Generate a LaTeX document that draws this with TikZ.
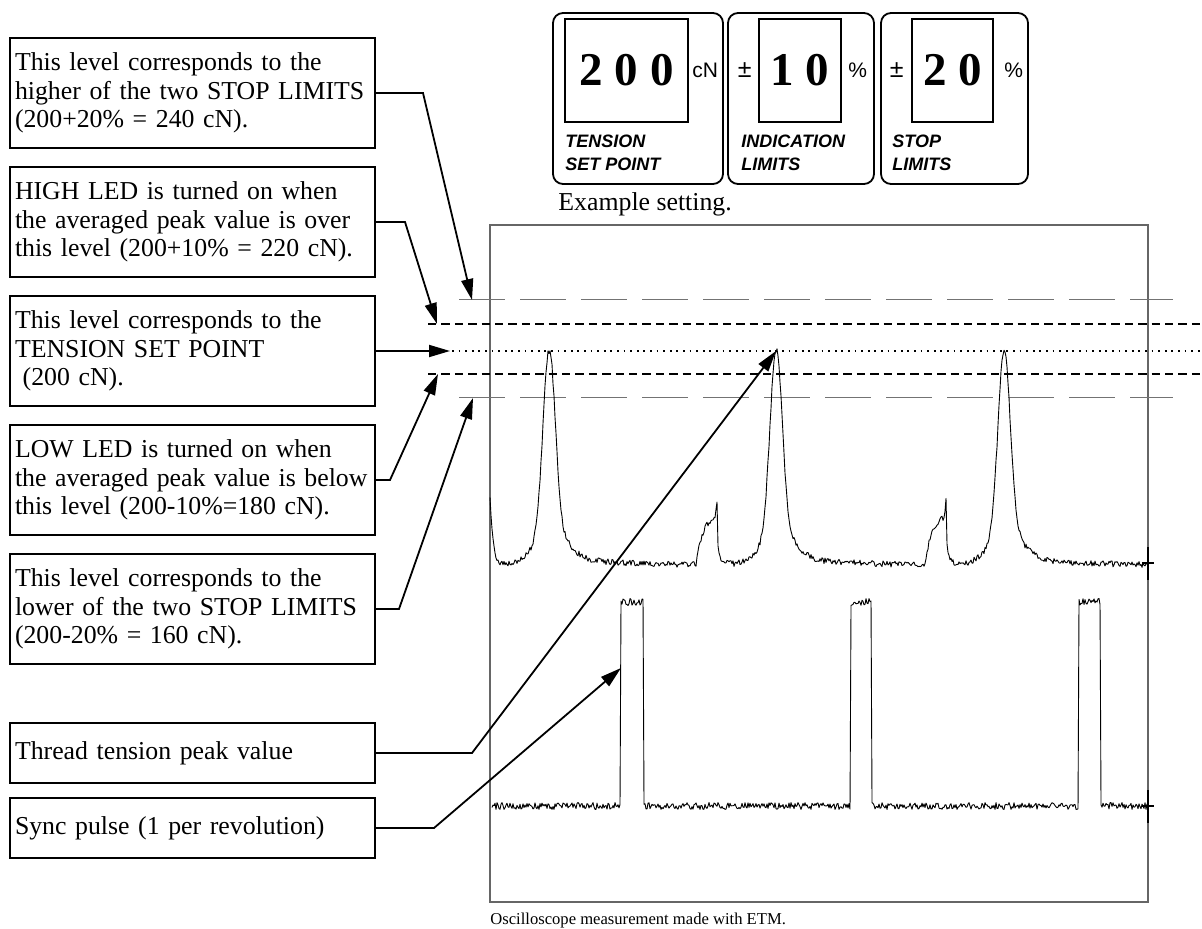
\documentclass[tikz,border=0pt]{standalone}
\usepackage{fontspec}
\setmainfont{Liberation Serif}
\setsansfont{Liberation Sans}
\usetikzlibrary{arrows.meta, positioning}
\tikzset{
  textbox/.style={draw, line width=0.8pt, outer sep=0pt, align=left, text width=177.5pt, inner xsep=2.5pt, minimum height=55pt, font=\fontsize{12.9}{14.35}\selectfont},
  panel/.style={draw, line width=0.9pt, rounded corners=5pt, minimum height=85.5pt},
  display/.style={draw, line width=0.9pt, minimum height=51.5pt, font=\fontsize{23.5}{24}\selectfont\bfseries},
  unit/.style={inner sep=0pt, font=\fontsize{10.5}{12}\selectfont\sffamily},
  tag/.style={align=left, inner sep=0pt, anchor=north west, font=\fontsize{9}{11.5}\selectfont\sffamily\bfseries\itshape},
  stoplvl/.style={black!55, line width=0.5pt, dash pattern=on 23pt off 7.5pt},
  indlvl/.style={line width=1pt, dash pattern=on 4.2pt off 2.5pt},
  setlvl/.style={line width=0.9pt, dash pattern=on 0.9pt off 2.4pt},
  trace/.style={line width=0.45pt, line join=round},
  scopebox/.style={black!60, line width=0.55pt},
  endmark/.style={line width=0.8pt},
  arrow/.style={-{Triangle[length=10.5pt, width=6pt]}, line width=0.9pt},
  note/.style={inner sep=0pt, anchor=base west}
}

\begin{document}
\begin{tikzpicture}[x=0.5pt, y=-0.5pt, node distance=9.5pt,
  declare function={
    gb(\p,\q,\w)=exp(-1*(min(abs(\p-\q)/\w,3.2))^2);
    dk(\p,\q,\w)=(\p>\q)*exp(-1*min(max(\p-\q,0)/\w,10));
    rs(\p,\q,\w)=1-exp(-1*min(max(\p-\q,0)/\w,10));
    pk(\p,\q)=184*gb(\p,\q,8.5)+30*gb(\p,\q,22)+12*rs(\p,\q,4)*dk(\p,\q,45);
    bp(\p,\q)=(\p<=\q)*50*rs(\p,\q-21,7)+18*gb(\p,\q,1.2)+12*dk(\p,\q,5);
    sq(\p,\q,\w)=(\p>=\q)*(\p<=\w);
  }]
  \useasboundingbox[fill=white] (0,0) rectangle (1202,929);

  % setting panels
  \node[panel, minimum width=85pt] (tspanel) at (638,98.5) {};
  \node[panel, minimum width=73pt] (ilpanel) at (801,98.5) {};
  \node[panel, minimum width=73.5pt] (slpanel) at (954.5,98.5) {};
  \node[display, minimum width=61.5pt] (tsval) at (626.5,70.5) {2 0 0};
  \node[display, minimum width=41pt] (ilval) at (800,70.5) {1 0};
  \node[display, minimum width=40.5pt] (slval) at (952.5,70.5) {2 0};
  \node[unit, right=1.5pt of tsval] (tsunit) {cN};
  \node[unit, left=3pt of ilval, font=\fontsize{12.5}{12}\selectfont\sffamily] (ilpm) {±};
  \node[unit, right=3pt of ilval] (ilunit) {\%};
  \node[unit, left=3.5pt of slval, font=\fontsize{12.5}{12}\selectfont\sffamily] (slpm) {±};
  \node[unit, right=5pt of slval] (slunit) {\%};
  \node[tag] (tstag) at (565,135) {TENSION\\SET POINT};
  \node[tag] (iltag) at (741,135) {INDICATION\\LIMITS};
  \node[tag] (sltag) at (892,135) {STOP\\LIMITS};
  \node[note, font=\fontsize{12.9}{14.35}\selectfont] (example) at (558,211) {Example setting.};

  % oscilloscope screen
  \draw[scopebox] (490,225) rectangle (1148,902);
  \draw[stoplvl] (459,300) -- (1173,300);
  \draw[indlvl] (428,324) -- (1202,324);
  \draw[setlvl] (452,351) -- (1202,351);
  \draw[indlvl] (428,374) -- (1202,374);
  \draw[stoplvl] (459,398) -- (1173,398);

  \pgfmathsetseed{11}
  \draw[trace] plot[domain=490:1148, samples=659]
    (\x, {565-80*dk(\x,489.5,3)-pk(\x,549)-pk(\x,776)-pk(\x,1004)-bp(\x,717)-bp(\x,946)+3*rand});
  \draw[trace] plot[domain=492:1148, samples=657]
    (\x, {806-204*(sq(\x,621,643)+sq(\x,851,871)+sq(\x,1079,1100))+3.5*rand});
  \draw[endmark] (1148,547) -- (1148,580) (1142,563) -- (1154,563);
  \draw[endmark] (1148,790) -- (1148,823) (1142,806) -- (1154,806);

  \coordinate (tstophi) at (472,300);
  \coordinate (tindhi) at (437,324);
  \coordinate (tsetpt) at (450,351);
  \coordinate (tindlo) at (438,374);
  \coordinate (tstoplo) at (473,398);
  \coordinate (tpeak) at (776,351);
  \coordinate (tsync) at (621,668);

  % explanations
  \node[textbox, anchor=north west] (stophi) at (10,38) {This level corresponds to the\\higher of the two STOP LIMITS\\(200+20\% = 240 cN).};
  \node[textbox, below=of stophi] (indhi) {HIGH LED is turned on when\\the averaged peak value is over\\this level (200+10\% = 220 cN).};
  \node[textbox, below=of indhi] (setpt) {This level corresponds to the\\TENSION SET POINT\\\hspace*{0.3em}(200 cN).};
  \node[textbox, below=of setpt] (indlo) {LOW LED is turned on when\\the averaged peak value is below\\this level (200-10\%=180 cN).};
  \node[textbox, below=of indlo] (stoplo) {This level corresponds to the\\lower of the two STOP LIMITS\\(200-20\% = 160 cN).};
  \node[textbox, below=29.5pt of stoplo, minimum height=30pt] (peak) {Thread tension peak value};
  \node[textbox, below=7.5pt of peak, minimum height=30pt] (sync) {Sync pulse (1 per revolution)};

  \draw[arrow] (stophi.east) -- ++(48,0) -- (tstophi);
  \draw[arrow] (indhi.east) -- ++(30,0) -- (tindhi);
  \draw[arrow] (setpt.east) -- (setpt.east -| tsetpt);
  \draw[arrow] (indlo.east) -- ++(15,0) -- (tindlo);
  \draw[arrow] (stoplo.east) -- ++(24,0) -- (tstoplo);
  \draw[arrow] (peak.east) -- ++(97,0) -- (tpeak);
  \draw[arrow] (sync.east) -- ++(59,0) -- (tsync);

  \node[note, font=\fontsize{8.3}{10}\selectfont] (caption) at (490,924) {Oscilloscope measurement made with ETM.};
\end{tikzpicture}
\end{document}
